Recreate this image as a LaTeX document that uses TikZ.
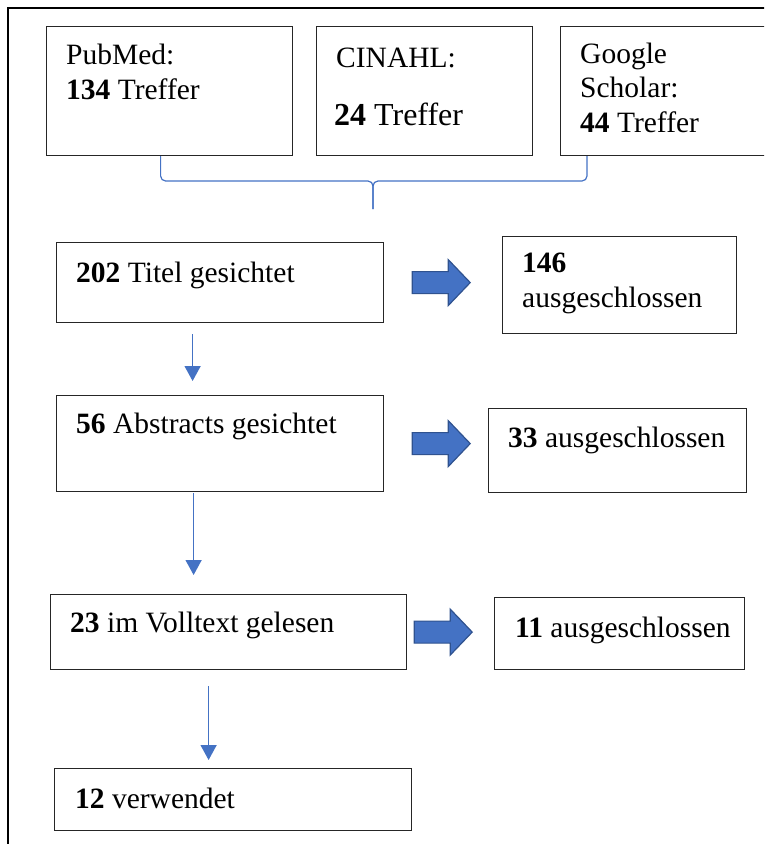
\documentclass[tikz,border=0pt]{standalone}
\usepackage{fontspec}
\setmainfont{Liberation Serif}
\usetikzlibrary{arrows.meta, positioning, calc}
\definecolor{flowblue}{RGB}{68,114,196}
\definecolor{flowedge}{RGB}{47,82,143}
\tikzset{
    box/.style={draw=black!85, line width=1.2pt, anchor=north west, inner sep=0pt},
    txt/.style={anchor=base west, align=left, inner sep=0pt, font=\fontsize{29.5}{34.5}\selectfont},
    link/.style={draw=flowblue, line width=1.5pt, -{Triangle[width=16pt,length=15pt]}},
    brace/.style={draw=flowblue, line width=1.2pt, rounded corners=5pt},
    fatarrow/.pic={
      \draw[flowedge, line width=1.2pt, fill=flowblue, line join=miter]
        (0,-11) -- (36,-11) -- (36,-23) -- (58,0) -- (36,23) -- (36,11) -- (0,11) -- cycle;
    },
}

\begin{document}
\begin{tikzpicture}[x=1pt, y=-1pt]
    \useasboundingbox (0,0) rectangle (764,844);
    \clip (0,0) rectangle (764,844);
    \draw[line width=2.4pt] (8,900) -- (8,8) -- (800,8);

    % Datenbanken (base = letzte Zeile)
    \node[box, minimum width=246pt, minimum height=129pt] (pubmed) at (46,26) {};
    \node[box, minimum width=216pt, minimum height=129pt] (cinahl) at (316,26) {};
    \node[box, minimum width=230pt, minimum height=129pt] (google) at (560,26) {};
    \node[txt] (pubmed-t) at ($(pubmed.north west)+(20,73)$) {PubMed:\\\textbf{134} Treffer};
    \node[txt] (cinahl-t) at ($(cinahl.north west)+(20,41)$) {CINAHL:};
    \node[txt, font=\fontsize{32}{38}\selectfont] (cinahl-n) at ($(cinahl.north west)+(18,99)$) {\textbf{24} Treffer};
    \node[txt] (google-t) at ($(google.north west)+(20,106)$) {Google\\Scholar:\\\textbf{44} Treffer};

    % Klammer
    \coordinate (merge) at (373,181);
    \draw[brace] ([xshift=-9pt]pubmed.south) |- (merge) -- (373,209);
    \draw[brace] ([xshift=27pt]google.south west) |- (merge) -- (373,209);

    % Sichtung
    \node[box, minimum width=327pt, minimum height=80pt] (titel) at (56,242) {};
    \node[box, minimum width=234pt, minimum height=97pt] (aus1) at (502,236) {};
    \node[box, minimum width=327pt, minimum height=96pt] (abstracts) at (56,395) {};
    \node[box, minimum width=258pt, minimum height=84pt] (aus2) at (488,408) {};
    \node[box, minimum width=356pt, minimum height=75pt] (volltext) at (50,594) {};
    \node[box, minimum width=250pt, minimum height=72pt] (aus3) at (494,597) {};
    \node[box, minimum width=357pt, minimum height=62pt] (verwendet) at (54,768) {};

    \node[txt] (titel-t) at ($(titel.north west)+(20,40)$) {\textbf{202} Titel gesichtet};
    \node[txt] (aus1-t) at ($(aus1.north west)+(20,71)$) {\textbf{146}\\ausgeschlossen};
    \node[txt] (abstracts-t) at ($(abstracts.north west)+(20,38)$) {\textbf{56} Abstracts gesichtet};
    \node[txt] (aus2-t) at ($(aus2.north west)+(20,39)$) {\textbf{33} ausgeschlossen};
    \node[txt] (volltext-t) at ($(volltext.north west)+(20,38)$) {\textbf{23} im Volltext gelesen};
    \node[txt] (aus3-t) at ($(aus3.north west)+(21,40)$) {\textbf{11} ausgeschlossen};
    \node[txt] (verwendet-t) at ($(verwendet.north west)+(21,40)$) {\textbf{12} verwendet};

    % Pfeile
    \pic at ([xshift=28pt]titel.east) {fatarrow};
    \pic at ([xshift=28pt]abstracts.east) {fatarrow};
    \pic at ([xshift=7pt]volltext.east) {fatarrow};
    \draw[link, shorten <=11pt, shorten >=14pt] ([xshift=-27.5pt]titel.south) -- ([xshift=-27.5pt]titel.south |- abstracts.north);
    \draw[link, shorten <=1pt, shorten >=19pt] ([xshift=-26.5pt]abstracts.south) -- ([xshift=-26.5pt]abstracts.south |- volltext.north);
    \draw[link, shorten <=16pt, shorten >=8pt] ([xshift=-20pt]volltext.south) -- ([xshift=-20pt]volltext.south |- verwendet.north);
\end{tikzpicture}
\end{document}
